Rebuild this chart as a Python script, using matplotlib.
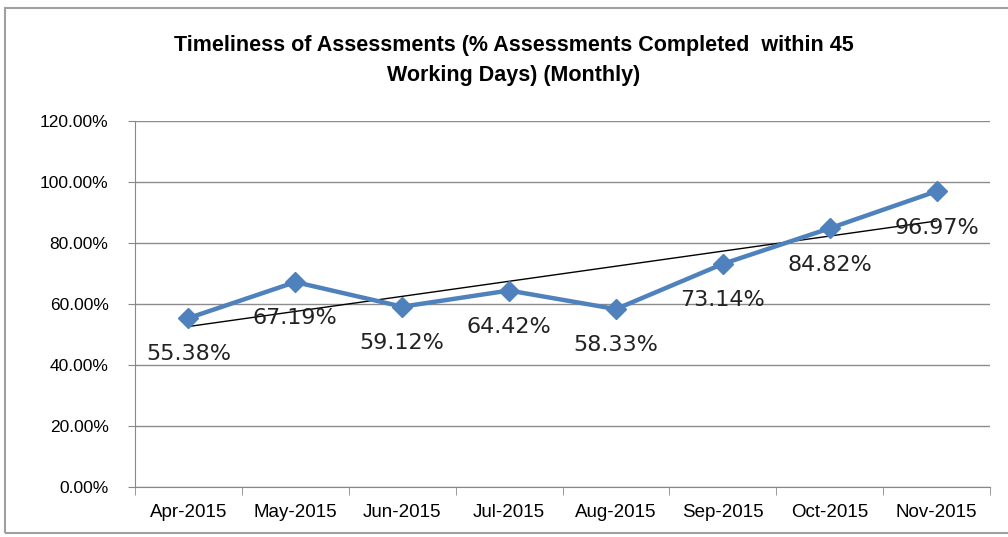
import matplotlib.pyplot as plt
import numpy as np
from matplotlib.patches import Rectangle

months = ["Apr-2015", "May-2015", "Jun-2015", "Jul-2015",
          "Aug-2015", "Sep-2015", "Oct-2015", "Nov-2015"]
pct = [55.38, 67.19, 59.12, 64.42, 58.33, 73.14, 84.82, 96.97]
yticks = [0, 20, 40, 60, 80, 100, 120]

narrow = ["Liberation Sans Narrow", "Liberation Sans", "DejaVu Sans"]

fig = plt.figure(figsize=(10.08, 5.37), dpi=100)
# chart border
fig.patches.append(Rectangle((5 / 1008, 4 / 537), 1.2, 525 / 537,
                             transform=fig.transFigure, fill=False,
                             edgecolor="#a0a0a0", linewidth=1.5))

ax = fig.add_axes([135 / 1008, 1 - 487 / 537, 855 / 1008, 366 / 537])
x = np.arange(len(months))

# linear trendline
k, b = np.polyfit(x, pct, 1)
ax.plot(x, k * x + b, color="black", linewidth=1, zorder=2)

ax.plot(x, pct, color="#4F81BD", linewidth=3.2, marker="D",
        markersize=10, zorder=3)

for xi, v in zip(x, pct):
    ax.annotate(f"{v:.2f}%", (xi, v), xytext=(0, -19),
                textcoords="offset points", ha="center", va="top",
                fontsize=16, family="DejaVu Sans", color="#222222", zorder=4)

ax.set_xlim(-0.5, len(months) - 0.5)
ax.set_ylim(0, 120)
ax.set_yticks(yticks)
ax.set_yticklabels([f"{t:.2f}%" for t in yticks], family=narrow, fontsize=12.5)
ax.set_xticks(x)
ax.set_xticklabels(months, family=narrow, fontsize=13.5)
ax.set_xticks(np.arange(-0.5, len(months)), minor=True)
ax.tick_params(axis="x", which="major", length=0, pad=12)
ax.tick_params(axis="x", which="minor", length=6, color="#888888")
ax.tick_params(axis="y", length=5, color="#888888", pad=14)
ax.yaxis.grid(True, color="#8c8c8c", linewidth=1)
ax.set_axisbelow(True)
for s in ["top", "right"]:
    ax.spines[s].set_visible(False)
for s in ["left", "bottom"]:
    ax.spines[s].set_color("#888888")

fig.text(0.51, 1 - 45 / 537, "Timeliness of Assessments (% Assessments Completed  within 45",
         ha="center", va="center", fontsize=15.5, fontweight="bold", family=narrow)
fig.text(0.51, 1 - 76 / 537, "Working Days) (Monthly)",
         ha="center", va="center", fontsize=15.5, fontweight="bold", family=narrow)

fig.savefig("out.png", dpi=100)
